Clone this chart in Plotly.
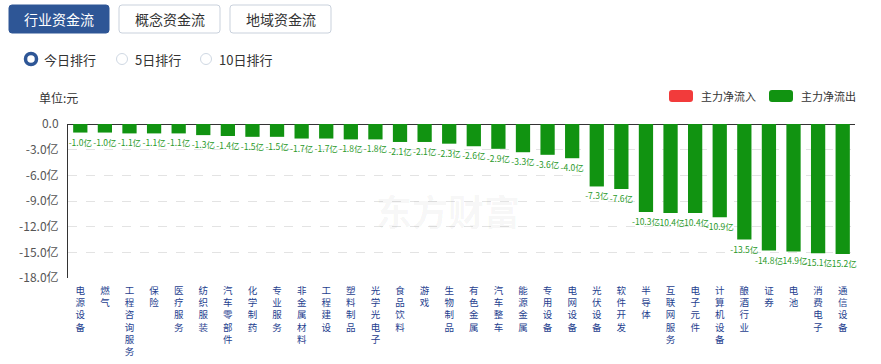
import plotly.graph_objects as go

categories = ["电源设备", "燃气", "工程咨询服务", "保险", "医疗服务", "纺织服装", "汽车零部件", "化学制药",
              "专业服务", "非金属材料", "工程建设", "塑料制品", "光学光电子", "食品饮料", "游戏", "生物制品",
              "有色金属", "汽车整车", "能源金属", "专用设备", "电网设备", "光伏设备", "软件开发", "半导体",
              "互联网服务", "电子元件", "计算机设备", "酿酒行业", "证券", "电池", "消费电子", "通信设备"]
values = [-1.0, -1.0, -1.1, -1.1, -1.1, -1.3, -1.4, -1.5, -1.5, -1.7, -1.7, -1.8, -1.8, -2.1, -2.1, -2.3,
          -2.6, -2.9, -3.3, -3.6, -4.0, -7.3, -7.6, -10.3, -10.4, -10.4, -10.9, -13.5, -14.8, -14.9, -15.1, -15.2]
y_ticks = [0, -3, -6, -9, -12, -15, -18]
y_tick_labels = ["0.0", "-3.0亿", "-6.0亿", "-9.0亿", "-12.0亿", "-15.0亿", "-18.0亿"]
tabs = ["行业资金流", "概念资金流", "地域资金流"]
radios = ["今日排行", "5日排行", "10日排行"]
legend_names = ["主力净流入", "主力净流出"]

W, H = 881, 364
L, R, T, B = 68, 26, 124, 86
PW, PH = W - L - R, H - T - B
FONT = "Noto Sans CJK SC, Microsoft YaHei, sans-serif"
GREEN = "#119311"
RED = "#f23b3b"
BLUE = "#2e5696"


def px(x):
    return (x - L) / PW


def py(y):
    return (H - B - y) / PH


def rrect(x0, y0, x1, y1, r):
    pts = [
        f"M {px(x0 + r)},{py(y0)}",
        f"L {px(x1 - r)},{py(y0)}",
        f"Q {px(x1)},{py(y0)} {px(x1)},{py(y0 + r)}",
        f"L {px(x1)},{py(y1 - r)}",
        f"Q {px(x1)},{py(y1)} {px(x1 - r)},{py(y1)}",
        f"L {px(x0 + r)},{py(y1)}",
        f"Q {px(x0)},{py(y1)} {px(x0)},{py(y1 - r)}",
        f"L {px(x0)},{py(y0 + r)}",
        f"Q {px(x0)},{py(y0)} {px(x0 + r)},{py(y0)} Z",
    ]
    return " ".join(pts)


fig = go.Figure()
fig.add_trace(go.Bar(
    x=list(range(len(categories))),
    y=values,
    marker=dict(color=GREEN, line=dict(width=0)),
    width=0.58,
    texttemplate="%{y:.1f}亿",
    textposition="outside",
    constraintext="none",
    cliponaxis=False,
    textfont=dict(size=8.5, color="#2a9a2a", family=FONT),
    hoverinfo="skip",
))

shapes = []
annotations = []

# tabs
tab_x = [(9, 109), (119, 220), (230, 331)]
for i, (name, (x0, x1)) in enumerate(zip(tabs, tab_x)):
    if i == 0:
        shapes.append(dict(type="path", xref="paper", yref="paper", path=rrect(x0, 5, x1, 33, 3),
                           fillcolor=BLUE, line=dict(color=BLUE, width=1)))
        col = "white"
    else:
        shapes.append(dict(type="path", xref="paper", yref="paper", path=rrect(x0, 5, x1, 33, 3),
                           fillcolor="white", line=dict(color="#c9d1dc", width=1)))
        col = "#333333"
    annotations.append(dict(x=px((x0 + x1) / 2), y=py(19), xref="paper", yref="paper", text=name,
                            showarrow=False, xanchor="center", yanchor="middle",
                            font=dict(size=14, color=col, family=FONT)))

# radios
radio_x = [31, 122, 206]
for i, (name, cx) in enumerate(zip(radios, radio_x)):
    r = 5.5
    if i == 0:
        shapes.append(dict(type="circle", xref="paper", yref="paper",
                           x0=px(cx - r), x1=px(cx + r), y0=py(59 + r), y1=py(59 - r),
                           fillcolor="white", line=dict(color=BLUE, width=3.5)))
    else:
        shapes.append(dict(type="circle", xref="paper", yref="paper",
                           x0=px(cx - r), x1=px(cx + r), y0=py(59 + r), y1=py(59 - r),
                           fillcolor="white", line=dict(color="#cfd8e3", width=1)))
    annotations.append(dict(x=px(cx + 11), y=py(59), xref="paper", yref="paper", text=name,
                            showarrow=False, xanchor="left", yanchor="middle",
                            font=dict(size=13, color="#333333", family=FONT)))

# unit
annotations.append(dict(x=px(37), y=py(97), xref="paper", yref="paper", text="单位:元",
                        showarrow=False, xanchor="left", yanchor="middle",
                        font=dict(size=12, color="#333333", family=FONT)))

# legend
leg_x = [669, 769]
for name, lx, col in zip(legend_names, leg_x, [RED, GREEN]):
    shapes.append(dict(type="path", xref="paper", yref="paper", path=rrect(lx, 90, lx + 24, 102, 3),
                       fillcolor=col, line=dict(color=col, width=0)))
    annotations.append(dict(x=px(lx + 30), y=py(96), xref="paper", yref="paper", text=name,
                            showarrow=False, xanchor="left", yanchor="middle",
                            font=dict(size=11, color="#333333", family=FONT)))

# watermark
annotations.append(dict(x=px(448), y=py(210), xref="paper", yref="paper", text="<b>东方财富</b>",
                        showarrow=False, xanchor="center", yanchor="middle",
                        font=dict(size=36, color="rgba(0,0,0,0.045)", family=FONT)))

fig.update_layout(
    width=W, height=H,
    margin=dict(l=L, r=R, t=T, b=B, pad=0, autoexpand=False),
    paper_bgcolor="white", plot_bgcolor="white",
    showlegend=False,
    shapes=shapes,
    annotations=annotations,
    font=dict(family=FONT),
    xaxis=dict(
        range=[-0.5, len(categories) - 0.5],
        tickmode="array",
        tickvals=list(range(len(categories))),
        ticktext=["<br>".join(list(c)) for c in categories],
        tickfont=dict(size=9.5, color="#1f3f8f", family=FONT),
        showgrid=False, zeroline=False, showline=False, ticks="",
        ticklabelstandoff=5, automargin=False,
    ),
    yaxis=dict(
        range=[-18, 0],
        tickmode="array",
        tickvals=y_ticks,
        ticktext=y_tick_labels,
        tickfont=dict(size=12, color="#555555", family=FONT),
        showgrid=True, gridcolor="#e3e3e3", griddash="dash", gridwidth=1,
        zeroline=True, zerolinecolor="#333333", zerolinewidth=1,
        showline=True, linecolor="#333333", linewidth=1,
        ticks="", ticklabelstandoff=6, automargin=False,
    ),
)

fig.write_html("out.html", config={"displayModeBar": False},
               post_script="document.body.style.margin='0';")
